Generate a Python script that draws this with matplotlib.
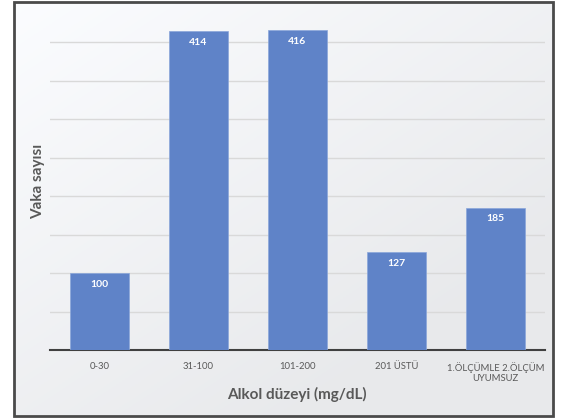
import matplotlib.pyplot as plt
import numpy as np
from matplotlib.patches import Rectangle

plt.rcParams['font.family'] = ['Lato', 'DejaVu Sans']

# data
categories = ['0-30', '31-100', '101-200', '201 ÜSTÜ', '1.ÖLÇÜMLE 2.ÖLÇÜM\nUYUMSUZ']
cases = [100, 414, 416, 127, 185]

W, H = 562, 418
fig = plt.figure(figsize=(W / 100, H / 100), dpi=100)
fig.patch.set_facecolor('white')

# gradient background inside the frame (white top-left -> light grey bottom-right)
fl, fb, fw, fh = 13.5 / W, 2.5 / H, (553 - 13.5) / W, (416 - 2.5) / H
bg = fig.add_axes([0, 0, 1, 1], zorder=0)
yy, xx = np.mgrid[0:1:200j, 0:1:200j]
g = 1.0 - 0.075 * np.clip(0.6 * xx + 0.7 * yy, 0, 1)
img = np.dstack([g * 0.985, g * 0.99, g])
bg.imshow(img, extent=[fl, fl + fw, fb, fb + fh], origin='upper', aspect='auto')
bg.set_xlim(0, 1)
bg.set_ylim(0, 1)
bg.axis('off')
bg.add_patch(Rectangle((fl, fb), fw, fh, fill=False, edgecolor='#4a4a4a', linewidth=2.0))

ax = fig.add_axes([50 / W, 1 - 350 / H, (545 - 50) / W, (350 - 3.5) / H], zorder=1)
ax.patch.set_alpha(0)

x = np.arange(len(categories))
ax.bar(x, cases, width=0.6, color='#5f83c8', edgecolor='#8aa6da', linewidth=0.5, zorder=3)

for xi, v in zip(x, cases):
    ax.text(xi, v - 9, str(v), ha='center', va='top', color='white',
            fontsize=7.5, fontweight='bold', zorder=4)

ax.set_xlim(-0.5, 4.5)
ax.set_ylim(0, 450)
ax.set_yticks(np.arange(50, 401, 50))
ax.yaxis.grid(True, color='#d9d9d9', linewidth=1.0, zorder=0)
ax.tick_params(axis='y', left=False, labelleft=False)
ax.tick_params(axis='x', bottom=False, pad=5, labelsize=6.8, labelcolor='#595959')
ax.set_xticks(x)
ax.set_xticklabels(categories, linespacing=1.25)

for s in ['top', 'right', 'left']:
    ax.spines[s].set_visible(False)
ax.spines['bottom'].set_color('#404040')
ax.spines['bottom'].set_linewidth(1.5)

fig.text(297 / W, 1 - 394 / H, 'Alkol düzeyi (mg/dL)', ha='center', va='center',
         fontsize=11, fontweight='bold', color='#595959')
fig.text(38 / W, 1 - 181 / H, 'Vaka sayısı', ha='center', va='center', rotation=90,
         fontsize=11, fontweight='bold', color='#595959')

fig.savefig('out.png', dpi=100)
